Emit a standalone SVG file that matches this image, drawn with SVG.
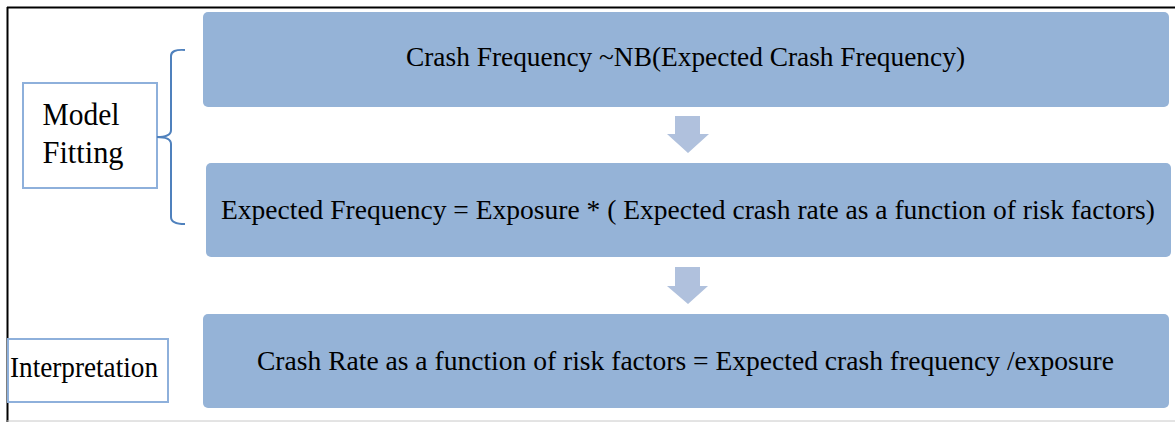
<svg xmlns="http://www.w3.org/2000/svg" width="1175" height="422" viewBox="0 0 1175 422">
<style>
.box{fill:#95b3d7;}
.arr{fill:#b0c1dd;}
.lbl{fill:#fff;stroke:#8eb0db;stroke-width:2;}
.t{font-family:"Liberation Serif","Times New Roman",serif;fill:#000;}
</style>
<rect x="0" y="0" width="1175" height="422" fill="#fff"/>
<g id="frame">
<line x1="7" y1="7.5" x2="1175" y2="7.5" stroke="#000" stroke-width="2"/>
<line x1="7.5" y1="7" x2="7.5" y2="422" stroke="#000" stroke-width="2"/>
<line x1="7" y1="421" x2="1175" y2="421" stroke="#c8c8c8" stroke-width="1"/>
</g>
<g id="node-crash-frequency">
<rect class="box" x="203" y="12" width="966" height="95" rx="5"/>
<text class="t" x="406" y="66" font-size="27.5" textLength="559" lengthAdjust="spacingAndGlyphs">Crash Frequency ~NB(Expected Crash Frequency)</text>
</g>
<g id="node-expected-frequency">
<rect class="box" x="206" y="163" width="965" height="94" rx="5"/>
<text class="t" x="221" y="219" font-size="28" textLength="934" lengthAdjust="spacingAndGlyphs">Expected Frequency = Exposure * ( Expected crash rate as a function of risk factors)</text>
</g>
<g id="node-crash-rate">
<rect class="box" x="203" y="314" width="966" height="94" rx="5"/>
<text class="t" x="257" y="370" font-size="28" textLength="857" lengthAdjust="spacingAndGlyphs">Crash Rate as a function of risk factors = Expected crash frequency /exposure</text>
</g>
<g id="node-model-fitting">
<rect class="lbl" x="23" y="83" width="134" height="105"/>
<text class="t" x="42.5" y="125" font-size="31" textLength="77" lengthAdjust="spacingAndGlyphs">Model</text>
<text class="t" x="42.5" y="162.5" font-size="31" textLength="81" lengthAdjust="spacingAndGlyphs">Fitting</text>
</g>
<g id="node-interpretation">
<rect class="lbl" x="8" y="339" width="160" height="63"/>
<text class="t" x="10" y="377" font-size="30" textLength="148" lengthAdjust="spacingAndGlyphs">Interpretation</text>
</g>
<g id="connectors">
<path d="M185 50 Q171 49 171 56 L171 130 Q171 137 157 137 Q171 137 171 144 L171 217 Q171 224 185 224" fill="none" stroke="#4f81bd" stroke-width="2"/>
<polygon class="arr" points="675,116 700,116 700,134 709,134 688,153 667,134 675,134"/>
<polygon class="arr" points="675,267 700,267 700,286 708,286 688,304 667,286 675,286"/>
</g>
</svg>
